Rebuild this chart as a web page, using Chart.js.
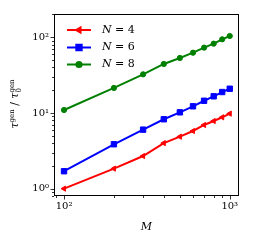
<!DOCTYPE html>
<html><head><meta charset="utf-8">
<script src="https://cdn.jsdelivr.net/npm/chart.js@4/dist/chart.umd.min.js"></script>
<style>html,body{margin:0;padding:0;background:#fff}</style>
</head><body>
<canvas id="c" width="254" height="244"></canvas>
<script>
const M = [100,200,300,400,500,600,700,800,900,1000];
const N4 = [1.0,1.84,2.7,4.0,4.86,5.78,6.94,7.83,8.77,9.8];
const N6 = [1.7,3.86,6.02,8.26,10.2,12.25,14.5,16.6,18.9,20.9];
const N8 = [10.95,21.4,32.4,44.4,53.3,62.6,73,82.4,94,104];
const seriesLabels = ['4','6','8'];
const xMajor = [100,1000];
const yMajor = [1,10,100];
const xTickLabels = ['10²','10³'];
const yTickLabels = ['10⁰','10¹','10²'];
const colors = ['#ff0000','#0000ff','#008000'];
const SERIF = '"DejaVu Serif","Liberation Serif",serif';

function pts(ys){return M.map((x,i)=>({x:x,y:ys[i]}));}

const styles = [
  {pointStyle:'triangle', rotation:-90, radius:3},
  {pointStyle:'rect', rotation:0, radius:3.8},
  {pointStyle:'circle', rotation:0, radius:2.6}
];
const datasets = [N4,N6,N8].map((d,i)=>({
  label:'N = '+seriesLabels[i],
  data:pts(d),
  borderColor:colors[i], backgroundColor:colors[i],
  borderWidth:2, pointStyle:styles[i].pointStyle, rotation:styles[i].rotation,
  pointRadius:styles[i].radius, pointBorderWidth:1, tension:0
}));

function minorTicks(min,max){
  const out=[];
  for(let e=Math.floor(Math.log10(min))-1;e<=Math.ceil(Math.log10(max));e++){
    for(let k=2;k<=9;k++){const v=k*Math.pow(10,e); if(v>=min&&v<=max) out.push(v);}
  }
  return out;
}

const decor = {
  id:'decor',
  afterDraw(chart){
    const ctx=chart.ctx, a=chart.chartArea, xs=chart.scales.x, ys=chart.scales.y;
    ctx.save();
    ctx.strokeStyle='#000'; ctx.lineWidth=1;
    ctx.strokeRect(Math.round(a.left)+0.5,Math.round(a.top)+0.5,Math.round(a.right-a.left)-1,Math.round(a.bottom-a.top)-1);
    ctx.lineWidth=0.8;
    const tick=(x1,y1,x2,y2)=>{ctx.beginPath();ctx.moveTo(x1,y1);ctx.lineTo(x2,y2);ctx.stroke();};
    xMajor.forEach(v=>{const p=Math.round(xs.getPixelForValue(v))+0.5; tick(p,a.bottom,p,a.bottom+3.5);});
    minorTicks(xs.min,xs.max).forEach(v=>{const p=Math.round(xs.getPixelForValue(v))+0.5; tick(p,a.bottom,p,a.bottom+2);});
    yMajor.forEach(v=>{const p=Math.round(ys.getPixelForValue(v))+0.5; tick(a.left,p,a.left-3.5,p);});
    minorTicks(ys.min,ys.max).forEach(v=>{const p=Math.round(ys.getPixelForValue(v))+0.5; tick(a.left,p,a.left-2,p);});
    ctx.fillStyle='#000';
    ctx.font='italic 11px '+SERIF; ctx.textAlign='center'; ctx.textBaseline='middle';
    ctx.fillText('M',(a.left+a.right)/2,227);
    ctx.save();
    ctx.translate(15,104);
    ctx.rotate(-Math.PI/2);
    const parts=[
      {t:'τ',f:'italic 11px '+SERIF,dy:0},
      {t:'gen',f:'7px '+SERIF,dy:-4},
      {t:' / ',f:'11px '+SERIF,dy:0},
      {t:'τ',f:'italic 11px '+SERIF,dy:0},
      {t:'gen',f:'7px '+SERIF,dy:-4,sub:'0'}
    ];
    let w=0; parts.forEach(p=>{ctx.font=p.f; p.w=ctx.measureText(p.t).width; w+=p.w;});
    let x=-w/2; ctx.textAlign='left'; ctx.textBaseline='alphabetic';
    parts.forEach(p=>{ctx.font=p.f; ctx.fillText(p.t,x,3+p.dy); if(p.sub){ctx.fillText(p.sub,x,3+3);} x+=p.w;});
    ctx.restore();
    const ly=[30,47.5,64.5];
    datasets.forEach((d,i)=>{
      ctx.strokeStyle=colors[i]; ctx.lineWidth=2;
      tick(67,ly[i],91,ly[i]);
      ctx.fillStyle=colors[i];
      Chart.helpers.drawPoint(ctx,{pointStyle:d.pointStyle,rotation:d.rotation,radius:d.pointRadius,borderWidth:1},79,ly[i]);
      ctx.fillStyle='#000';
      ctx.font='italic 11px '+SERIF; ctx.textBaseline='middle'; ctx.textAlign='left';
      ctx.fillText('N',102,ly[i]);
      const nw=ctx.measureText('N').width;
      ctx.font='11px '+SERIF;
      ctx.fillText(' = '+seriesLabels[i],102+nw,ly[i]);
    });
    ctx.restore();
  }
};

new Chart(document.getElementById('c'),{
  type:'line',
  data:{datasets},
  options:{
    responsive:false, animation:false, devicePixelRatio:1,
    layout:{padding:{top:14,right:15,left:0,bottom:0}},
    plugins:{legend:{display:false},tooltip:{enabled:false}},
    scales:{
      x:{type:'logarithmic',min:87,max:1137,
        grid:{display:false,drawTicks:false},border:{display:false},
        afterBuildTicks:s=>{s.ticks=xMajor.map(v=>({value:v}));},
        afterFit:s=>{s.height=48;},
        ticks:{autoSkip:false,maxRotation:0,padding:4,color:'#000',font:{family:SERIF,size:10},
          callback:(v)=>{const i=xMajor.indexOf(v);return i>=0?xTickLabels[i]:'';}}},
      y:{type:'logarithmic',min:0.8,max:203,
        grid:{display:false,drawTicks:false},border:{display:false},
        afterBuildTicks:s=>{s.ticks=yMajor.map(v=>({value:v}));},
        afterFit:s=>{s.width=54;},
        ticks:{autoSkip:false,padding:5,color:'#000',font:{family:SERIF,size:10},
          callback:(v)=>{const i=yMajor.indexOf(v);return i>=0?yTickLabels[i]:'';}}}
    }
  },
  plugins:[decor]
});
</script>
</body></html>
